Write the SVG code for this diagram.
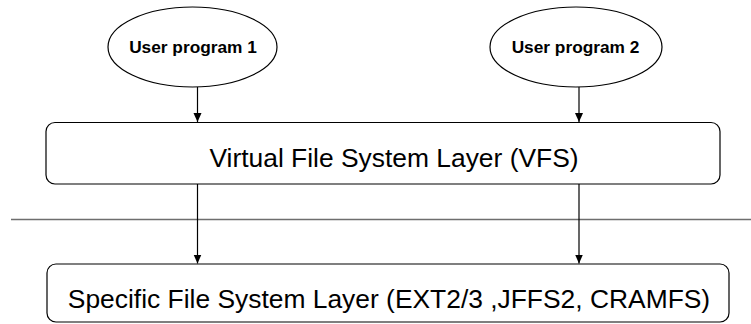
<svg xmlns="http://www.w3.org/2000/svg" width="751" height="324" viewBox="0 0 751 324">
<defs>
<style>
.shape{fill:#fff;stroke:#000;stroke-width:1.2}
.conn{stroke:#000;stroke-width:1.2;fill:none}
.lbl{font-family:"Liberation Sans",Arial,sans-serif;fill:#000;text-anchor:middle}
.small{font-size:17.3px;font-weight:bold}
.big{font-size:26.4px}
</style>
<marker id="arr" markerWidth="10" markerHeight="10" refX="9" refY="4.5" orient="auto" markerUnits="userSpaceOnUse">
<path d="M0,0.5 L9,4.5 L0,8.5 Z" fill="#000"/>
</marker>
</defs>
<rect width="751" height="324" fill="#fff"/>
<line x1="11" y1="219.5" x2="751" y2="219.5" stroke="#6e6e6e" stroke-width="1.5"/>
<g id="node-user1">
<ellipse class="shape" cx="192.5" cy="47" rx="84.5" ry="40"/>
<text class="lbl small" x="193" y="53">User program 1</text>
</g>
<g id="node-user2">
<ellipse class="shape" cx="576" cy="47" rx="86" ry="40"/>
<text class="lbl small" x="575.5" y="53">User program 2</text>
</g>
<g id="node-vfs">
<rect class="shape" x="46" y="122.5" width="674" height="61.5" rx="9" ry="9"/>
<text class="lbl big" x="394" y="166.5">Virtual File System Layer (VFS)</text>
</g>
<g id="node-specific">
<rect class="shape" x="47" y="264" width="682" height="58" rx="9" ry="9"/>
<text class="lbl big" x="389" y="308">Specific File System Layer (EXT2/3 ,JFFS2, CRAMFS)</text>
</g>
<g id="connectors">
<line class="conn" x1="197.5" y1="87" x2="197.5" y2="122" marker-end="url(#arr)"/>
<line class="conn" x1="579" y1="87" x2="579" y2="122" marker-end="url(#arr)"/>
<line class="conn" x1="197.5" y1="184" x2="197.5" y2="263.5" marker-end="url(#arr)"/>
<line class="conn" x1="579" y1="184" x2="579" y2="263.5" marker-end="url(#arr)"/>
</g>
</svg>
